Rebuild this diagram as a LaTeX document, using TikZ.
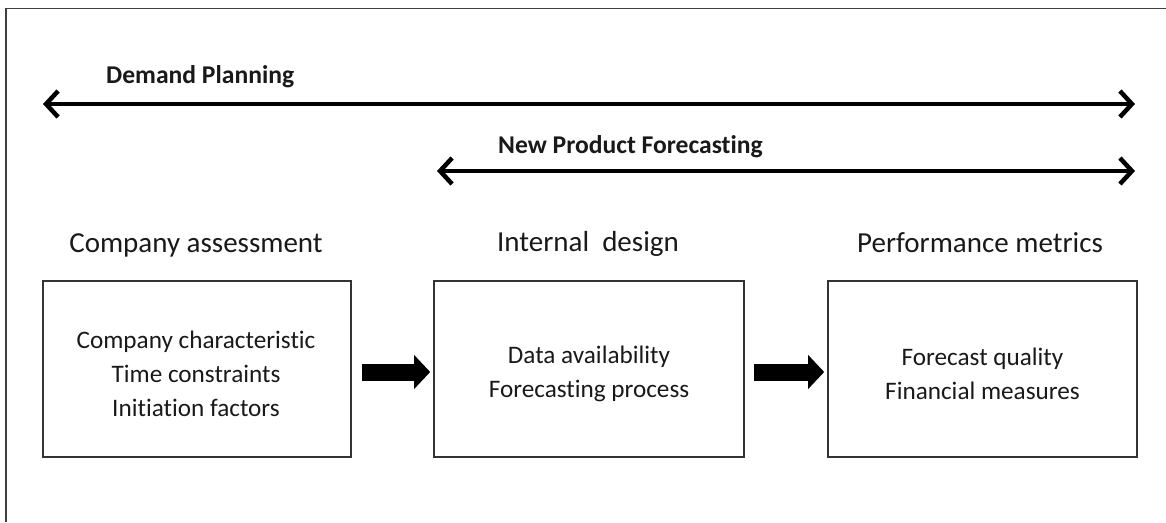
\documentclass[tikz,border=0pt]{standalone}
\usepackage{fontspec}
\setmainfont[Ligatures=NoCommon]{Carlito}
\usetikzlibrary{arrows.meta}
\begin{document}
\begin{tikzpicture}[x=1pt,y=-1pt,
  box/.style={draw=black!80, line width=1.6pt, minimum height=176pt, inner sep=0pt},
  boxtext/.style={inner sep=0pt, align=center, font=\fontsize{25.2}{34}\selectfont, text=black!90},
  head/.style={font=\fontsize{29}{34}\selectfont, text=black!90, anchor=base, inner sep=0pt},
  lbl/.style={font=\bfseries\fontsize{25.6}{30}\selectfont, text=black!90, anchor=base west, inner sep=0pt},
  span/.style={line width=4.5pt, {Straight Barb[length=12pt 0 0, width=26pt 0 0]}-{Straight Barb[length=12pt 0 0, width=26pt 0 0]}},
  block/.style={line width=17pt, -{Triangle[length=16pt 0 0, width=33pt 0 0]}}
]
\useasboundingbox (0,0) rectangle (1166,522);
\draw[line width=1.5pt, black!75] (1166,8.5) -- (6,8.5) -- (6,522);

% span arrows
\coordinate (dpL) at (43,104);
\coordinate (dpR) at (1135,104);
\coordinate (npL) at (437,171);
\coordinate (npR) at (1135,171);
\draw[span] (dpL) -- (dpR);
\draw[span] (npL) -- (npR);
\node[lbl] (dp) at (106,83) {Demand Planning};
\node[lbl] (np) at (498,153) {New Product Forecasting};

% headings
\node[head] (h1) at (196,252) {Company assessment};
\node[head] (h2) at (588,251) {Internal\ \ design};
\node[head] (h3) at (980,252) {Performance metrics};

% boxes
\node[box, minimum width=308pt] (b1) at (197,369) {};
\node[box, minimum width=310pt] (b2) at (589,369) {};
\node[box, minimum width=309pt] (b3) at (982.5,369) {};
\node[boxtext] (t1) at (196,374) {Company characteristic\\Time constraints\\Initiation factors};
\node[boxtext] (t2) at (589,374) {Data availability\\Forecasting process};
\node[boxtext] (t3) at (982.5,374) {Forecast quality\\Financial measures};

% block arrows
\draw[block] ([xshift=10pt,yshift=-3pt]b1.east) -- ([xshift=-3pt,yshift=-3pt]b2.west);
\draw[block] ([xshift=9pt,yshift=-3pt]b2.east) -- ([xshift=-3pt,yshift=-3pt]b3.west);
\end{tikzpicture}
\end{document}
